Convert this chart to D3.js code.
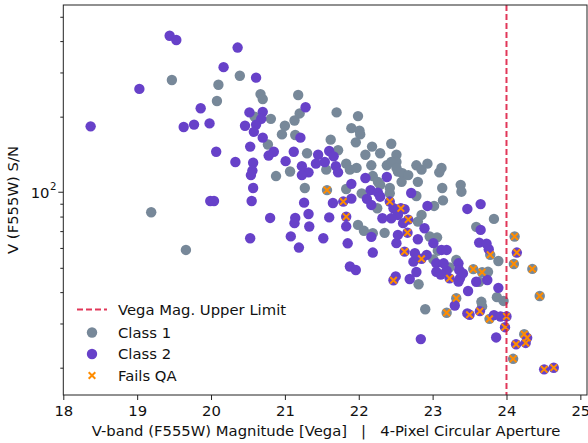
<!DOCTYPE html>
<html>
<head>
<meta charset="utf-8">
<script src="https://cdn.jsdelivr.net/npm/d3@7"></script>
<style>
  html, body { margin: 0; padding: 0; background: #fff; }
  svg { display: block; font-family: "DejaVu Sans", sans-serif; }
</style>
</head>
<body>
<svg id="chart" width="588" height="443"></svg>
<script>
// Class 1 sources: magnitude, S/N, QA failure flag
const class1Mag = [19.47,19.19,19.66,20.39,20.10,20.08,20.67,20.70,21.18,20.59,20.81,21.00,21.13,21.20,20.96,21.14,20.77,21.07,20.88,21.70,
  21.99,21.90,22.01,22.02,21.62,21.96,22.44,22.18,22.29,22.09,21.72,21.30,21.56,21.83,21.88,21.97,22.17,22.38,22.51,22.51,
  22.53,22.59,22.67,22.78,22.85,22.93,23.09,23.12,22.19,22.26,22.29,21.83,21.57,22.58,22.80,22.04,22.42,22.42,22.78,23.13,
  23.14,23.02,23.38,23.39,23.83,22.25,23.19,23.32,23.55,23.67,23.78,23.77,24.11,24.10,24.35,24.45,24.24,24.09,22.90,23.87,
  23.96,23.59,23.89,23.66,23.67,23.63,23.75,22.81,23.06,23.32,23.01,22.96,22.85,22.80,22.19,22.35,21.99,22.07,23.07,23.23,
  21.27,22.44,22.51];
const class1SN = [280,83.2,58.9,291,268,231,246,235,244,200,196,184,193,206,170,169,155,121,116,208,
  201,180,176,170,162,158,156,152,143,141,147,143,123,130,123,125,128,128,141,132,
  121,119,117,128,123,130,120,125,116,110,107,103,102,110,110,99.0,104,99.0,96.6,104,
  92.8,88.2,107,100.5,78.3,86.3,33.1,37.8,49.4,48.0,56.3,31.3,66.6,51.8,49.5,38.6,27.2,21.7,34.2,38.2,
  36.9,72.8,53.2,36.6,35.1,44.0,48.2,43.0,66.1,53.7,54.0,66.6,81.2,76.4,68.7,68.9,74.1,70.2,58.5,50.2,
  104,132,125];
const class1Fail = [0,0,0,0,0,0,0,0,0,0,0,0,0,0,0,0,0,0,0,0,
  0,0,0,0,0,0,0,0,0,0,0,0,0,0,0,0,0,0,0,0,
  0,0,0,0,0,0,0,0,0,0,0,0,1,0,0,0,0,0,0,0,
  0,0,0,0,0,0,1,1,1,1,1,1,1,1,1,1,1,1,0,0,
  0,0,0,0,0,0,0,0,0,0,0,0,0,0,0,0,0,0,0,0,
  0,0,0];

// Class 2 sources: magnitude, S/N, QA failure flag
const class2Mag = [18.37,19.03,19.44,19.53,20.36,20.17,20.61,19.86,19.63,19.77,19.98,20.07,20.33,19.99,20.04,20.55,20.80,20.53,21.08,21.14,
  21.13,21.19,20.52,20.70,20.68,20.61,20.46,20.58,21.21,20.70,20.53,20.85,20.78,21.01,21.12,20.57,20.56,20.54,20.57,21.28,
  21.60,21.66,21.45,21.54,21.42,21.23,21.32,21.23,21.69,21.72,22.38,22.09,21.90,22.16,22.26,22.29,22.71,22.93,23.47,23.65,
  21.26,21.65,21.79,21.90,22.11,22.17,22.42,22.57,22.47,22.62,21.83,21.32,21.60,22.67,22.66,22.62,22.85,22.47,22.50,23.23,
  23.50,23.64,24.00,23.98,24.14,24.28,24.26,24.13,24.51,24.64,22.84,23.86,23.89,23.65,23.63,23.73,23.76,23.47,23.83,23.92,
  23.74,23.48,23.35,23.36,23.37,23.41,23.30,23.19,23.05,23.05,23.15,22.69,22.78,22.92,23.01,23.12,23.19,22.74,22.76,22.51,
  22.53,22.89,22.53,22.44,22.32,22.17,22.19,21.83,21.85,21.88,21.96,21.52,21.33,22.80,23.11,23.35,23.59,22.60];
const class2SN = [183,258,420,404,377,315,286,216,182,186,188,145,132,92.3,92.3,92.3,79.0,65.6,66.7,79.0,
  75.3,60.2,208,209,196,186,184,174,165,165,152,145,140,133,145,131,122,117,104,218,
  146,139,141,132,130,127,120,117,127,120,115,114,108,102,99.6,96.0,99.3,88.2,85.8,89.7,
  90.9,90.6,91.8,94.3,94.1,89.0,91.8,86.3,86.3,85.6,79.9,81.9,79.4,77.8,69.0,58.0,54.3,44.6,46.2,45.4,
  32.5,33.6,32.0,29.0,57.5,26.3,25.1,24.8,19.7,20.0,26.0,26.4,41.6,70.8,63.0,62.4,59.3,32.9,32.4,32.0,
  44.7,40.4,52.1,49.0,45.4,47.5,35.4,48.7,52.1,48.2,52.1,45.1,48.1,56.3,62.7,58.9,58.9,52.9,57.2,62.7,
  67.6,71.9,81.2,78.8,78.8,66.4,57.5,73.1,62.6,50.6,49.0,65.6,73.0,65.0,47.0,44.1,44.0,75.3];
const class2Fail = [0,0,0,0,0,0,0,0,0,0,0,0,0,0,0,0,0,0,0,0,
  0,0,0,0,0,0,0,0,0,0,0,0,0,0,0,0,0,0,0,0,
  0,0,0,0,0,0,0,0,0,0,0,0,0,0,0,0,0,0,0,0,
  0,0,1,0,0,0,1,1,0,0,1,0,0,1,1,1,1,1,0,1,
  1,1,1,1,1,1,1,1,1,1,0,0,0,0,0,0,0,0,0,0,
  0,0,0,0,0,0,0,0,0,0,0,0,0,0,0,0,0,0,0,0,
  0,0,0,0,0,0,0,0,0,0,0,0,0,0,0,0,0,0];

const xTicks = [18, 19, 20, 21, 22, 23, 24, 25];
const yMinorTicks = [20, 30, 40, 50, 60, 70, 80, 90, 200, 300, 400, 500];
const vegaLimit = 24;
const legendLabels = ["Vega Mag. Upper Limit", "Class 1", "Class 2", "Fails QA"];

const colors = { c1: "#778899", c2: "#6741c9", fail: "#ff8c00", limit: "#dc143c", axis: "#222", text: "#111" };
const FS = 14.8;

const svg = d3.select("#chart");
const plot = { left: 63.3, right: 587, top: 5, bottom: 395 };

const x = d3.scaleLinear().domain([18, 25.09]).range([plot.left, plot.right]);
const y = d3.scaleLog().domain([15.57, 557]).range([plot.bottom, plot.top]);

const class1 = class1Mag.map((m, i) => ({ m, sn: class1SN[i], fail: class1Fail[i] }));
const class2 = class2Mag.map((m, i) => ({ m, sn: class2SN[i], fail: class2Fail[i] }));

const R = 5.2;
const cross = s => `M${-s},${-s}L${s},${s}M${-s},${s}L${s},${-s}`;

// scatter: class 1 first, class 2 over it
svg.append("g").selectAll("circle").data(class1).join("circle")
  .attr("cx", d => x(d.m)).attr("cy", d => y(d.sn)).attr("r", R).attr("fill", colors.c1);
svg.append("g").selectAll("circle").data(class2).join("circle")
  .attr("cx", d => x(d.m)).attr("cy", d => y(d.sn)).attr("r", R).attr("fill", colors.c2);

// QA failures marked with crosses
const failed = class1.concat(class2).filter(d => d.fail);
svg.append("g").selectAll("path").data(failed).join("path")
  .attr("transform", d => `translate(${x(d.m)},${y(d.sn)})`)
  .attr("d", cross(3.3))
  .attr("stroke", colors.fail).attr("stroke-width", 2).attr("fill", "none");

// Vega magnitude limit
svg.append("line")
  .attr("x1", x(vegaLimit)).attr("x2", x(vegaLimit))
  .attr("y1", plot.top).attr("y2", plot.bottom)
  .attr("stroke", colors.limit).attr("stroke-opacity", 0.85)
  .attr("stroke-width", 2).attr("stroke-dasharray", "6,3");

// axes
const xAxis = svg.append("g").attr("transform", `translate(0,${plot.bottom})`)
  .call(d3.axisBottom(x).tickValues(xTicks).tickFormat(d3.format("d")).tickSize(5).tickSizeOuter(0));
xAxis.select(".domain").remove();
xAxis.selectAll("line").attr("stroke", colors.axis);
xAxis.selectAll("text").attr("font-size", FS).attr("fill", colors.text)
  .attr("font-family", "DejaVu Sans").attr("dy", "0.88em");

const yAxis = svg.append("g").attr("transform", `translate(${plot.left},0)`)
  .call(d3.axisLeft(y).tickValues(yMinorTicks).tickFormat("").tickSize(3).tickSizeOuter(0));
yAxis.select(".domain").remove();
yAxis.selectAll("line").attr("stroke", colors.axis);

svg.append("line").attr("x1", plot.left - 5).attr("x2", plot.left)
  .attr("y1", y(100)).attr("y2", y(100)).attr("stroke", colors.axis);
svg.append("text").attr("x", 49.5).attr("y", y(100) + 5.3)
  .attr("text-anchor", "end").attr("font-size", FS).attr("fill", colors.text).text("10");
svg.append("text").attr("x", 50).attr("y", y(100) - 2.5)
  .attr("font-size", 10.2).attr("fill", colors.text).text("2");

// frame
svg.append("rect").attr("x", plot.left).attr("y", plot.top)
  .attr("width", plot.right - plot.left).attr("height", plot.bottom - plot.top)
  .attr("fill", "none").attr("stroke", colors.axis).attr("stroke-width", 1);

// axis titles
svg.append("text").attr("x", 326).attr("y", 435.5).attr("text-anchor", "middle")
  .attr("font-size", FS).attr("fill", colors.text).style("white-space", "pre")
  .text("V-band (F555W) Magnitude [Vega]   |   4-Pixel Circular Aperture");
svg.append("text").attr("transform", `translate(18,${(plot.top + plot.bottom) / 2}) rotate(-90)`)
  .attr("text-anchor", "middle").attr("font-size", FS).attr("fill", colors.text)
  .text("V (F555W) S/N");

// legend
const lg = svg.append("g");
const rowY = [309.5, 332.5, 354, 375.5];
lg.append("line").attr("x1", 77).attr("x2", 107).attr("y1", rowY[0]).attr("y2", rowY[0])
  .attr("stroke", colors.limit).attr("stroke-opacity", 0.85).attr("stroke-width", 2).attr("stroke-dasharray", "6,3");
lg.append("circle").attr("cx", 92).attr("cy", rowY[1]).attr("r", R).attr("fill", colors.c1);
lg.append("circle").attr("cx", 92).attr("cy", rowY[2]).attr("r", R).attr("fill", colors.c2);
lg.append("path").attr("transform", `translate(92,${rowY[3]})`).attr("d", cross(3.3))
  .attr("stroke", colors.fail).attr("stroke-width", 2).attr("fill", "none");
lg.selectAll("text").data(legendLabels).join("text")
  .attr("x", 118).attr("y", (d, i) => rowY[i]).attr("dy", "0.36em")
  .attr("font-size", FS).attr("fill", colors.text).text(d => d);
</script>
</body>
</html>
